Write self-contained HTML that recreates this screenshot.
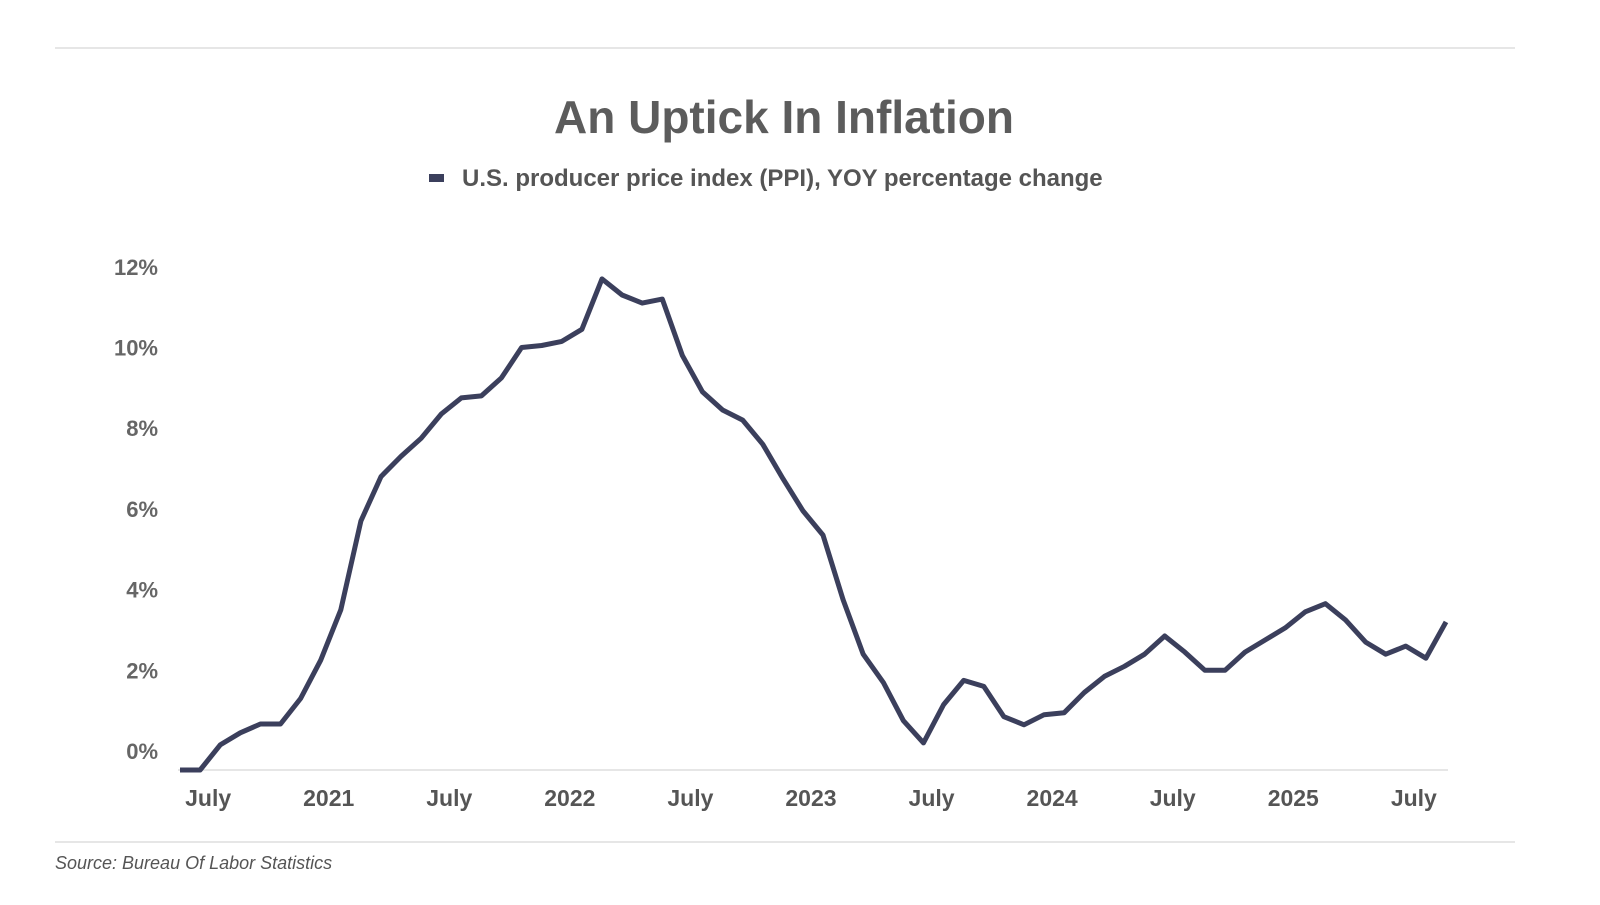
<!DOCTYPE html>
<html><head><meta charset="utf-8"><style>
body{margin:0;background:#fff;width:1600px;height:900px;overflow:hidden;font-family:"Liberation Sans",sans-serif}
</style></head><body>
<svg width="1600" height="900" id="c">
<line x1="55" y1="48" x2="1515" y2="48" stroke="#ddd" stroke-width="1.5"/>
<line x1="55" y1="842" x2="1515" y2="842" stroke="#ddd" stroke-width="1.5"/>
<text x="784" y="133" text-anchor="middle" font-size="46" font-weight="bold" fill="#5c5c5c">An Uptick In Inflation</text>
<g>
<rect x="429" y="174" width="15" height="8" fill="#3b3f5c"/>
<text x="462" y="186" font-size="24" font-weight="bold" fill="#555">U.S. producer price index (PPI), YOY percentage change</text>
</g>
<line x1="178" y1="770" x2="1448" y2="770" stroke="#ddd" stroke-width="1.5"/>
<text x="55" y="869" font-size="18" font-style="italic" fill="#555">Source: Bureau Of Labor Statistics</text>
</svg>
<script>
const values=[-0.47,-0.47,0.15,0.45,0.67,0.67,1.3,2.25,3.5,5.7,6.8,7.3,7.75,8.35,8.75,8.8,9.25,10.0,10.05,10.15,10.45,11.7,11.3,11.1,11.2,9.8,8.9,8.45,8.2,7.6,6.75,5.95,5.35,3.75,2.4,1.7,0.75,0.2,1.15,1.75,1.6,0.85,0.65,0.9,0.95,1.45,1.85,2.1,2.4,2.85,2.45,2.0,2.0,2.45,2.75,3.05,3.45,3.65,3.25,2.7,2.4,2.6,2.3,3.2];
const yTicks=[0,2,4,6,8,10,12];
const xTickLabels=["July","2021","July","2022","July","2023","July","2024","July","2025","July"];
const xTickIndex=[1.4,7.4,13.4,19.4,25.4,31.4,37.4,43.4,49.4,55.4,61.4];
const NS="http://www.w3.org/2000/svg",svg=document.getElementById('c');
const x=i=>180+i*(1266/(values.length-1));
const y=v=>751-v*40.35;
yTicks.forEach(t=>{const e=document.createElementNS(NS,'text');
e.setAttribute('x',158);e.setAttribute('y',y(t)+8);e.setAttribute('text-anchor','end');
e.setAttribute('font-size','22');e.setAttribute('font-weight','bold');e.setAttribute('fill','#666');
e.textContent=t+'%';


svg.appendChild(e);});
xTickLabels.forEach((l,k)=>{const e=document.createElementNS(NS,'text');
e.setAttribute('x',x(xTickIndex[k]));e.setAttribute('y',806);e.setAttribute('text-anchor','middle');
e.setAttribute('font-size','23');e.setAttribute('font-weight','bold');e.setAttribute('fill','#555');
e.textContent=l;


svg.appendChild(e);});
const p=document.createElementNS(NS,'path');
p.setAttribute('d',values.map((v,i)=>(i?'L':'M')+x(i).toFixed(1)+' '+y(v).toFixed(1)).join(''));
p.setAttribute('fill','none');p.setAttribute('stroke','#3b3f5c');p.setAttribute('stroke-width','5');p.setAttribute('stroke-linejoin','round');


svg.appendChild(p);
</script>
</body></html>
